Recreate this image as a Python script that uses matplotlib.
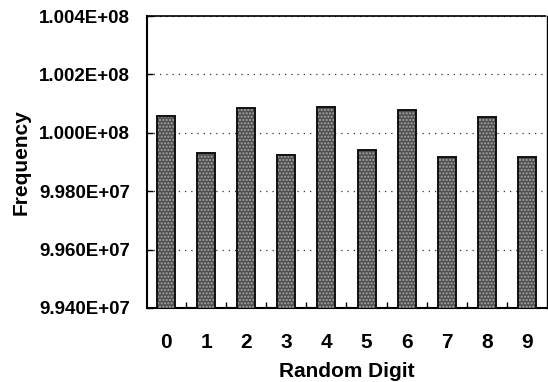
import matplotlib
matplotlib.use("Agg")
from matplotlib import pyplot as plt
from matplotlib.ticker import FuncFormatter, FixedLocator

digits = ["0", "1", "2", "3", "4", "5", "6", "7", "8", "9"]
freq = [100058200, 99931500, 100085600, 99924700, 100089000,
        99941800, 100078800, 99917800, 100054800, 99917800]
yticks = [99400000, 99600000, 99800000, 100000000, 100200000, 100400000]

plt.rcParams['font.family'] = ['Liberation Sans', 'DejaVu Sans']
plt.rcParams['font.weight'] = 'bold'
plt.rcParams['hatch.linewidth'] = 1.0

fig = plt.figure(figsize=(5.48, 3.82), dpi=100)
ax = fig.add_axes([0.268, 0.194, 0.73, 0.764])

x = list(range(len(digits)))
# stippled fill: dark grey base with light dots, then black outline
ax.bar(x, freq, width=0.45, color='#4f4f4f', linewidth=0, zorder=3)
ax.bar(x, freq, width=0.45, color='none', edgecolor='#a8a8a8', hatch='.....',
       linewidth=0, zorder=4)
ax.bar(x, freq, width=0.45, color='none', edgecolor='#111111', linewidth=1.4, zorder=5)

ax.set_xlim(-0.48, 9.5)
ax.set_ylim(yticks[0], yticks[-1])
ax.set_yticks(yticks)
ax.yaxis.set_major_formatter(FuncFormatter(lambda v, p: "%.3E" % v))
ax.grid(axis='y', linestyle=(0, (1, 4)), color='#333333', linewidth=0.9, zorder=1)

ax.set_xticks(x)
ax.set_xticklabels(digits)
ax.xaxis.set_minor_locator(FixedLocator([i + 0.5 for i in x[:-1]]))
ax.tick_params(axis='x', which='major', length=0, pad=18, labelsize=15)
ax.tick_params(axis='x', which='minor', direction='in', length=4, width=1)
ax.tick_params(axis='y', direction='in', length=4, width=1, pad=12, labelsize=13.5)

for s in ['left', 'bottom']:
    ax.spines[s].set_linewidth(1.5)
ax.spines['top'].set_linestyle((0, (1, 1)))
ax.spines['top'].set_linewidth(1.2)
ax.spines['right'].set_linewidth(1.0)

ax.set_xlabel("Random Digit", fontsize=15, fontweight='bold', labelpad=7)
ax.set_ylabel("Frequency", fontsize=15, fontweight='bold', labelpad=6)

fig.savefig("out.png", dpi=100)
